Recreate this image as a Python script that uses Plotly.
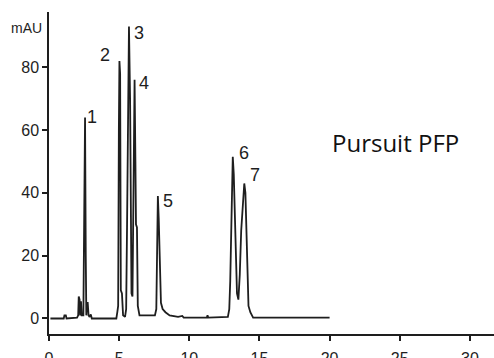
import plotly.graph_objects as go

# Retention time (min) and absorbance (mAU)
time_min = [0.1, 1.05, 1.1, 1.2, 1.25, 2.0, 2.08, 2.12, 2.18, 2.22, 2.28, 2.33, 2.45,
            2.52, 2.57, 2.62, 2.66, 2.7, 2.76, 2.82, 2.9, 2.98, 3.05,
            4.8, 4.87, 4.93, 4.98, 5.02, 5.07, 5.12, 5.2, 5.28, 5.42,
            5.5, 5.56, 5.62, 5.7, 5.78, 5.88, 5.95, 6.02, 6.1, 6.16, 6.2, 6.27, 6.33, 6.45,
            7.55, 7.65, 7.7, 7.76, 7.82, 7.9, 7.98, 8.1, 8.3, 8.6, 9.2, 9.5, 9.6,
            11.25, 11.3, 11.35, 12.75, 12.85, 12.92, 13.0, 13.1, 13.17, 13.25, 13.33, 13.4,
            13.5, 13.6, 13.7, 13.8, 13.92, 14.0, 14.08, 14.15, 14.22, 14.35, 14.55, 20.0]
absorbance = [0, 0, 1, 1, 0, 0.3, 1, 7, 6, 1, 5.5, 1, 1,
              40, 64, 20, 1, 5, 5, 1, 0.5, 1.3, 0,
              0, 2, 4, 60, 82, 78, 9, 8, 1, 0.5,
              3, 28, 60, 93, 70, 8, 7, 45, 76, 50, 30, 29, 4, 1,
              1, 3, 26, 39, 32, 20, 5, 3, 2, 1, 0.5, 0.8, 0.3,
              0.3, 1, 0.3, 0.5, 3, 12, 30, 51.5, 46, 32, 16, 8,
              6, 14, 28, 35, 43, 40, 28, 12, 4, 2, 0.3, 0.3]

# Peak labels and positions
peak_labels = ["1", "2", "3", "4", "5", "6", "7"]
peak_label_x = [3.06, 3.99, 6.41, 6.77, 8.48, 13.9, 14.68]
peak_label_y = [64.2, 83.9, 90.8, 75.0, 37.4, 52.7, 45.7]

x_ticks = [0, 5, 10, 15, 20, 25, 30]
y_ticks = [0, 20, 40, 60, 80]

ink = "#1e1e1e"
fig = go.Figure()
fig.add_trace(go.Scatter(x=time_min, y=absorbance, mode="lines",
                         line=dict(color=ink, width=1.8), showlegend=False,
                         hoverinfo="skip"))

for lab, lx, ly in zip(peak_labels, peak_label_x, peak_label_y):
    fig.add_annotation(x=lx, y=ly, xref="x", yref="y", text=lab, showarrow=False,
                       font=dict(family="Arial, Liberation Sans", size=18, color=ink),
                       xanchor="center", yanchor="middle")

fig.add_annotation(x=-0.0506, y=0.950, xref="paper", yref="paper", text="mAU",
                   showarrow=False,
                   font=dict(family="Arial, Liberation Sans", size=14, color=ink),
                   xanchor="center", yanchor="middle")
fig.add_annotation(x=20.03, y=55.9, xref="x", yref="y", text="Pursuit PFP", showarrow=False,
                   font=dict(family="Open Sans, Noto Sans", size=24, color="#111111"),
                   xanchor="left", yanchor="middle")

axis_common = dict(showline=True, linecolor=ink, linewidth=1.5, ticks="outside",
                   ticklen=5, tickcolor=ink, tickwidth=1.5, showgrid=False,
                   zeroline=False, automargin=False,
                   tickfont=dict(family="Arial, Liberation Sans", size=16, color=ink))

fig.update_layout(
    width=494, height=358,
    margin=dict(l=49, r=0, t=12, b=24),
    paper_bgcolor="white", plot_bgcolor="white",
    xaxis=dict(range=[0, 31.72], tickvals=x_ticks, ticklabelstandoff=4, **axis_common),
    yaxis=dict(range=[-4.94, 97.6], tickvals=y_ticks, **axis_common),
)

fig.write_html("out.html", config={"displayModeBar": False},
               post_script="document.body.style.margin='0';document.body.style.overflow='hidden';")
